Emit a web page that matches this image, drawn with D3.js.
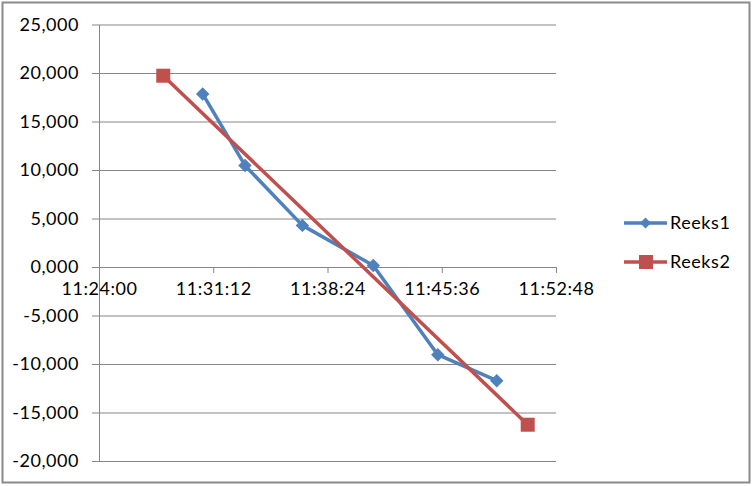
<!DOCTYPE html>
<html>
<head>
<meta charset="utf-8">
<script src="https://cdn.jsdelivr.net/npm/d3@7"></script>
<style>
  html, body { margin: 0; padding: 0; background: #fff; }
  svg { display: block; }
</style>
</head>
<body>
<svg id="chart" width="753" height="486"></svg>
<script>
// ---- data ----
const reeks1Times  = ["11:30:32", "11:33:12", "11:36:49", "11:41:17", "11:45:21", "11:49:04"];
const reeks1Values = [17.84, 10.47, 4.29, 0.16, -9.04, -11.72];
const reeks2Times  = ["11:28:03", "11:51:01"];
const reeks2Values = [19.72, -16.26];
const xTickLabels  = ["11:24:00", "11:31:12", "11:38:24", "11:45:36", "11:52:48"];
const yTickValues  = [-20, -15, -10, -5, 0, 5, 10, 15, 20, 25];
const seriesNames  = ["Reeks1", "Reeks2"];

(function () {
// ---- setup ----
const parse = d3.timeParse("%H:%M:%S");
const fmtTime = d3.timeFormat("%H:%M:%S");
const nl = d3.formatLocale({decimal: ",", thousands: ".", grouping: [3], currency: ["€", ""], minus: "-"});
const fmtY = nl.format(".3f");

const svg = d3.select("#chart");
const font = "Lato, 'Open Sans', sans-serif";
const fs = 18, ls = 0.55;
const gridColor = "#868686";
const blue = "#4F81BD", red = "#C0504D";

const pL = 99, pR = 556, pT = 24.5, pB = 461;
const x = d3.scaleTime()
  .domain([parse(xTickLabels[0]), parse(xTickLabels[xTickLabels.length - 1])])
  .range([pL, pR]);
const y = d3.scaleLinear().domain([-20, 25]).range([pB, pT]);

// outer border
svg.append("rect").attr("x", 2.5).attr("y", 2.5).attr("width", 747).attr("height", 480)
  .attr("fill", "#fff").attr("stroke", "#8a8a8a").attr("stroke-width", 2);

// y gridlines + axis
const yAxis = d3.axisLeft(y).tickValues(yTickValues).tickFormat(fmtY)
  .tickSizeInner(-(pR - pL)).tickSizeOuter(0).tickPadding(13);
const gy = svg.append("g").attr("transform", `translate(${pL},0)`).call(yAxis);
gy.select(".domain").attr("stroke", gridColor);
gy.selectAll(".tick line").attr("stroke", gridColor).attr("x1", -7);
gy.selectAll(".tick text").attr("font-family", font).attr("font-size", fs)
  .attr("letter-spacing", ls).attr("fill", "#000").attr("x", -20);

// x axis at y=0
const xAxis = d3.axisBottom(x).tickValues(xTickLabels.map(parse)).tickFormat(fmtTime)
  .tickSizeInner(6).tickSizeOuter(0).tickPadding(9);
const gx = svg.append("g").attr("transform", `translate(0,${y(0)})`).call(xAxis);
gx.select(".domain").attr("stroke", gridColor);
gx.selectAll(".tick line").attr("stroke", gridColor);
gx.selectAll(".tick text").attr("font-family", font).attr("font-size", fs)
  .attr("letter-spacing", ls).attr("fill", "#000");

// series
const line = d3.line().x(d => x(d.t)).y(d => y(d.v));
const s1 = reeks1Times.map((t, i) => ({t: parse(t), v: reeks1Values[i]}));
const s2 = reeks2Times.map((t, i) => ({t: parse(t), v: reeks2Values[i]}));

svg.append("path").datum(s1).attr("d", line).attr("fill", "none")
  .attr("stroke", blue).attr("stroke-width", 3.5).attr("stroke-linejoin", "round");
svg.append("path").datum(s2).attr("d", line).attr("fill", "none")
  .attr("stroke", red).attr("stroke-width", 3.5);

const diamond = d3.symbol().type(d3.symbolSquare).size(72);
svg.selectAll(".m1").data(s1).join("path").attr("class", "m1")
  .attr("d", diamond)
  .attr("transform", d => `translate(${x(d.t)},${y(d.v)}) rotate(45)`)
  .attr("fill", blue).attr("stroke", blue).attr("stroke-width", 1);
svg.selectAll(".m2").data(s2).join("rect").attr("class", "m2")
  .attr("x", d => x(d.t) - 7).attr("y", d => y(d.v) - 7)
  .attr("width", 14).attr("height", 14).attr("fill", red);

// legend
const legend = svg.append("g");
const legY = [223, 262];
const colors = [blue, red];
seriesNames.forEach((name, i) => {
  const g = legend.append("g").attr("transform", `translate(0,${legY[i]})`);
  g.append("line").attr("x1", 624).attr("x2", 667).attr("y1", 0).attr("y2", 0)
    .attr("stroke", colors[i]).attr("stroke-width", 3.5);
  if (i === 0) {
    g.append("path").attr("d", d3.symbol().type(d3.symbolSquare).size(60)())
      .attr("transform", "translate(645.5,0) rotate(45)").attr("fill", blue);
  } else {
    g.append("rect").attr("x", 639).attr("y", -7).attr("width", 14).attr("height", 14).attr("fill", red);
  }
  g.append("text").attr("x", 670).attr("y", 0).attr("dy", "0.35em")
    .attr("font-family", font).attr("font-size", fs).attr("letter-spacing", ls)
    .attr("fill", "#000").text(name);
});
})();
</script>
</body>
</html>
